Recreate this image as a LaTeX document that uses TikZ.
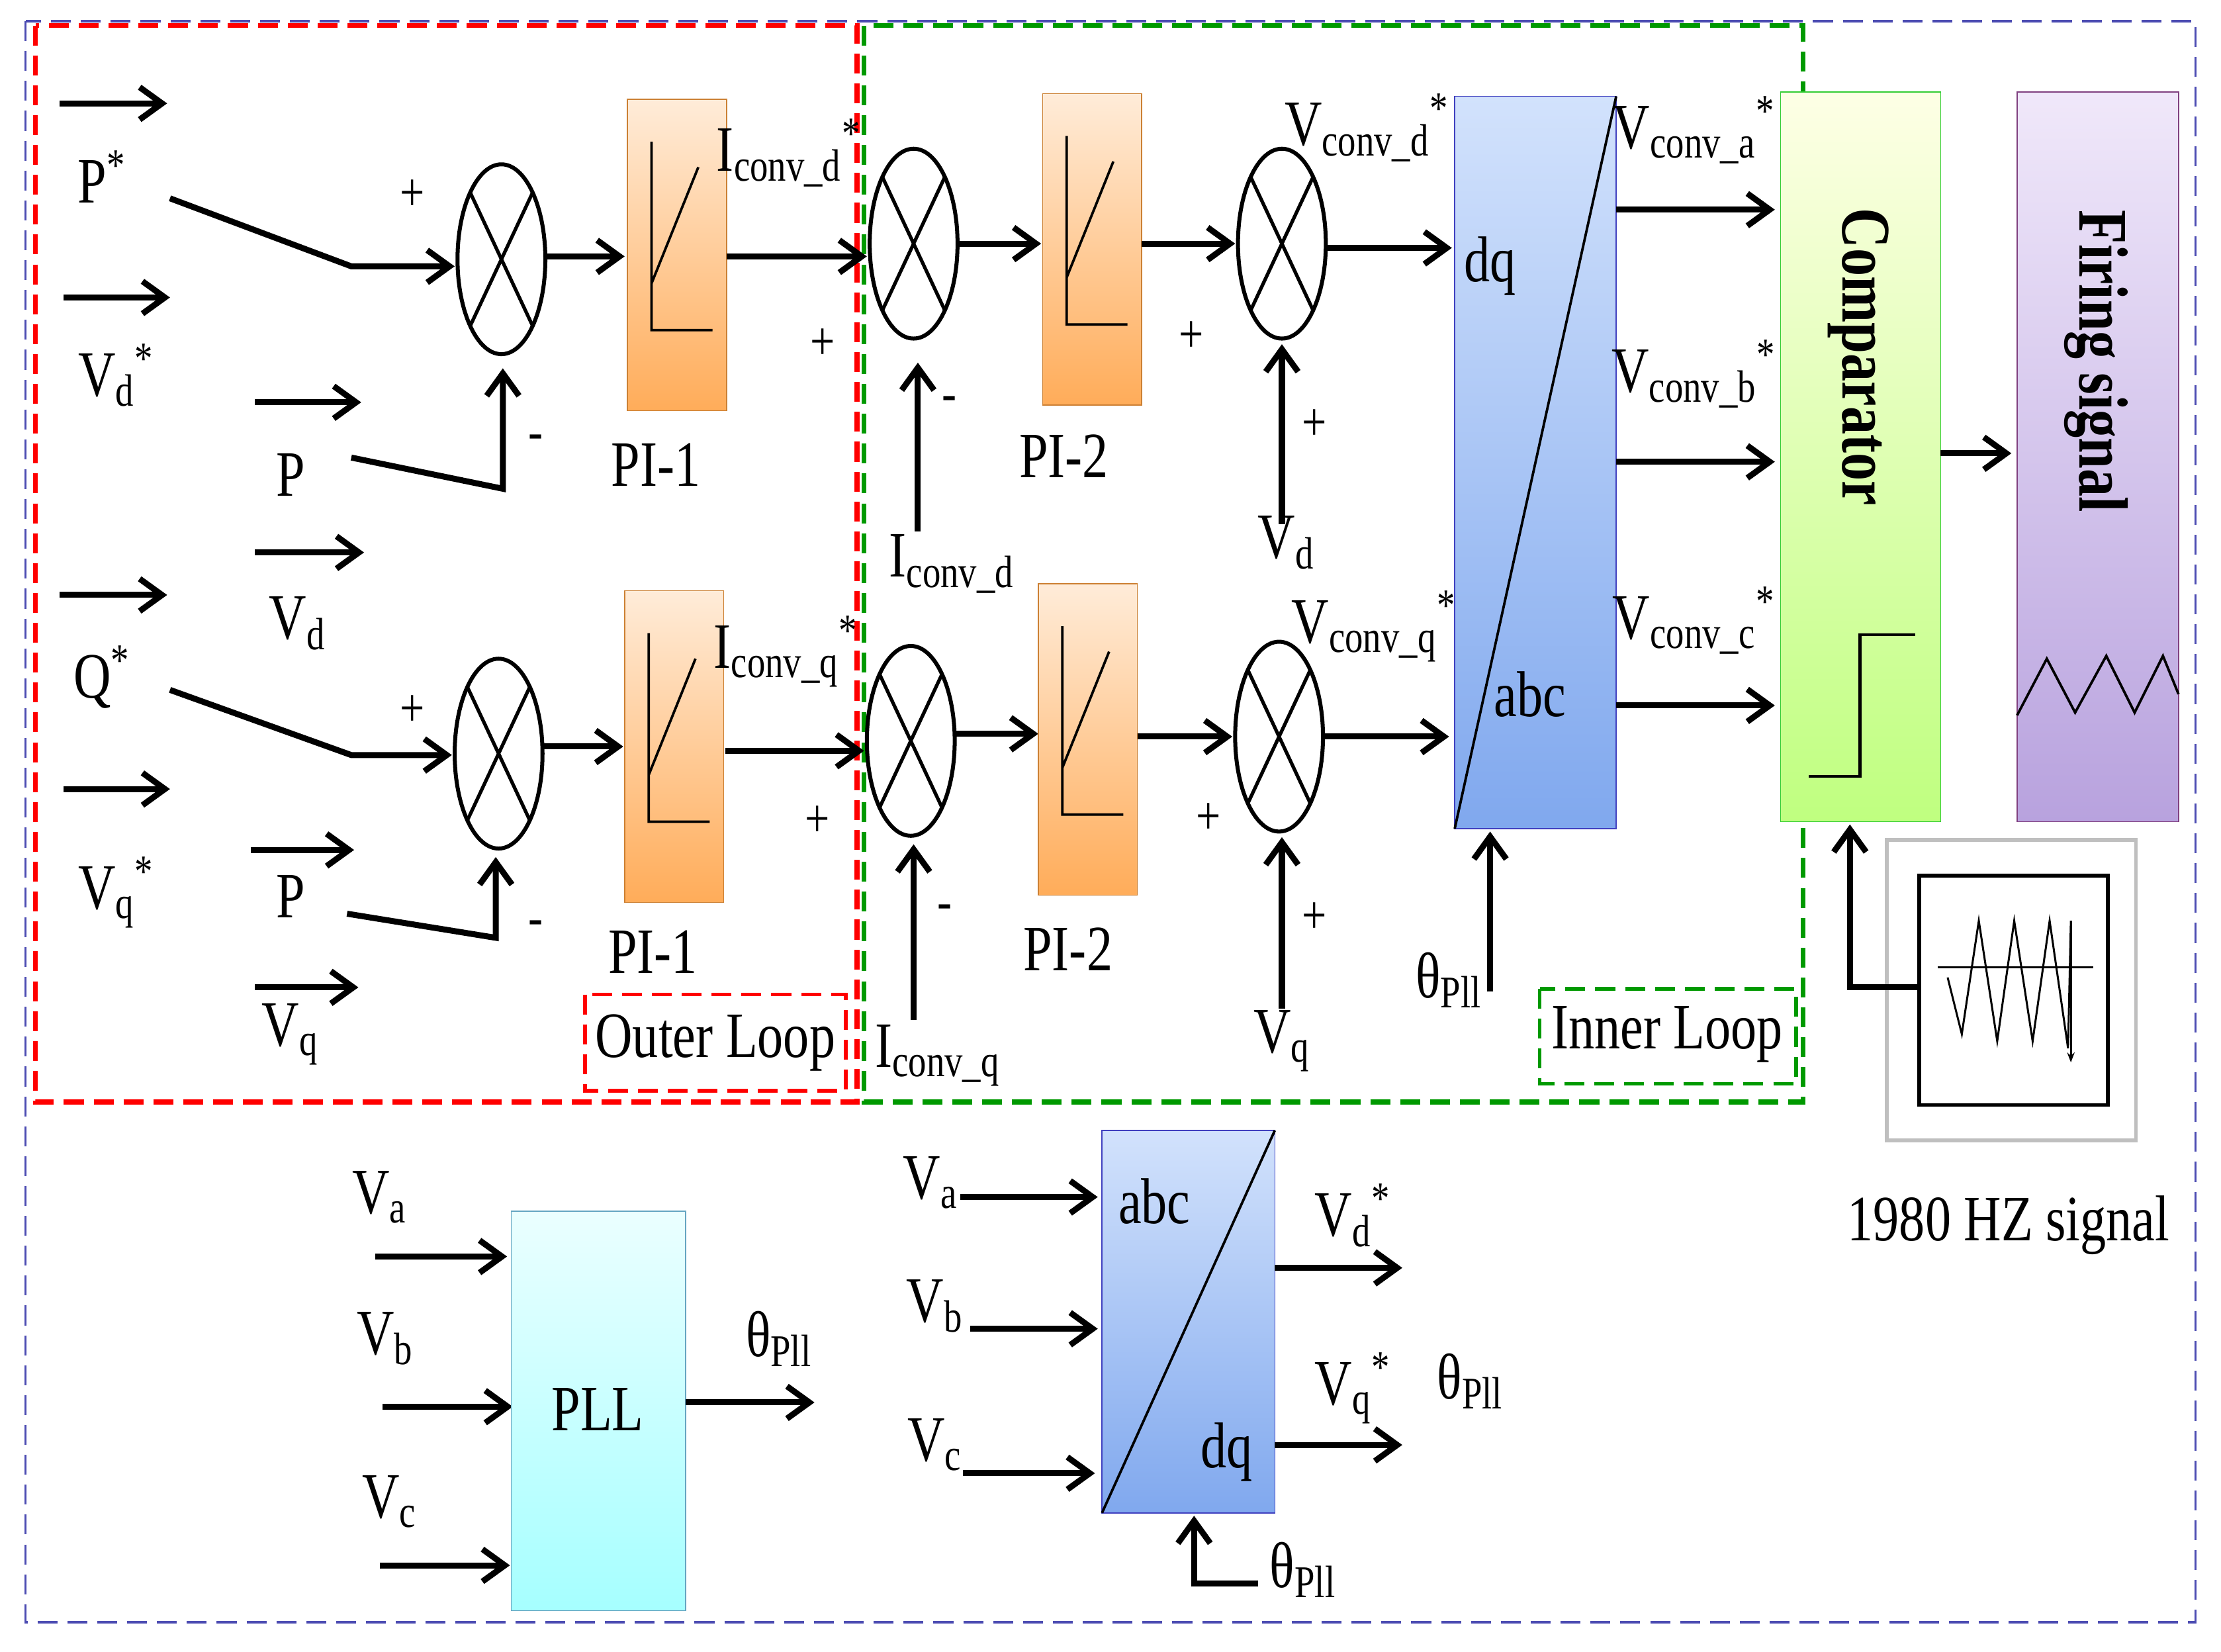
\documentclass[tikz,border=0pt]{standalone}
\usepackage{fontspec}
\setmainfont{Liberation Serif}[FakeStretch=0.8]
\usetikzlibrary{arrows.meta}
\definecolor{blt}{HTML}{D2E2FC}\definecolor{blb}{HTML}{80A8EE}
\definecolor{prt}{HTML}{F0E8FA}\definecolor{prb}{HTML}{B8A2DE}
\begin{document}
\begin{tikzpicture}[x=0.02cm,y=-0.02cm,
 ar/.style={line width=2.4pt,-{Straight Barb[length=9pt,width=13pt,line width=2.4pt]}},
 t/.style={font=\fontsize{26}{28}\selectfont,inner sep=0pt},
 sm/.style={font=\fontsize{22}{24}\selectfont,inner sep=0pt},
 pi/.style={draw=orange!60!gray,top color=orange!15,bottom color=orange!65},
 bl/.style={draw=blue!50!gray,top color=blt,bottom color=blb},
 dsh/.style={dash pattern=on 8pt off 4pt},
]
\useasboundingbox (0,0) rectangle (1568,1166);
\draw[blue!40!gray,dsh,line width=1pt] (18,15) rectangle (1550,1145);
\draw[red,dsh,line width=2pt] (25,18) rectangle (605,778);
\draw[green!60!black,dsh,line width=2pt] (610,18) rectangle (1273,778);
\draw[red,dsh,line width=1.5pt] (413,702) rectangle (597,770);
\node[t] (ol) at (505,736) {Outer Loop};
\draw[green!60!black,dsh,line width=1.5pt] (1087,698) rectangle (1268,765);
\node[t] (il) at (1177,730) {Inner Loop};

\tikzset{pics/summ/.style={code={
 \draw[line width=1.6pt,fill=white] (0,0) ellipse [x radius=31,y radius=67];
 \draw[line width=1.4pt] (-22,-47)--(22,47) (-22,47)--(22,-47);}}}
\tikzset{pics/pib/.style={code={
 \draw[pi] (-35,-110) rectangle (35,110);
 \draw[line width=1pt] (-18,-80)--(-18,53)--(25,53) (-18,20)--(15,-62);}}}

% ---------- upper row
\draw[ar] (42,73)--(118,73); \node[t] (ps) at (72,125) {P\textsuperscript{*}};
\draw[ar] (45,210)--(120,210); \node[t] (vds) at (82,265) {V\textsubscript{d}\textsuperscript{*}};
\pic at (354,183) {summ};
\draw[ar] (120,140)--(248,188)--(321,188);
\draw[ar] (180,284)--(255,284); \node[t] (p1) at (205,335) {P};
\draw[ar] (248,323)--(355,345)--(355,260);
\draw[ar] (180,390)--(257,390); \node[t] (vd1) at (210,440) {V\textsubscript{d}};
\node[sm] at (291,138) {+}; \node[sm] at (378,312) {-};
\draw[ar] (386,181)--(441,181);
\pic at (478,180) {pib};
\node[t] (pi1a) at (463,328) {PI-1};
\node[t] (icd) at (557,108) {I\textsubscript{conv\_d}\textsuperscript{*}};
\draw[ar] (513,181)--(612,181); \node[sm] at (581,243) {+};
\pic at (645,172) {summ};
\node[sm] at (670,285) {-};
\draw[ar] (648,375)--(648,256); \node[t] (icd2) at (672,398) {I\textsubscript{conv\_d}};
\draw[ar] (677,172)--(735,172);
\pic at (771,176) {pib};
\node[t] (pi2a) at (751,322) {PI-2};
\draw[ar] (806,172)--(872,172); \node[sm] at (841,238) {+};
\pic at (905,172) {summ};
\node[sm] at (928,300) {+};
\draw[ar] (905,370)--(905,243); \node[t] (vd2) at (908,383) {V\textsubscript{d}};
\node[t] (vcd) at (965,90) {V\textsubscript{conv\_d}\textsuperscript{*}};
\draw[ar] (937,175)--(1025,175);

% ---------- lower row
\draw[ar] (42,420)--(118,420); \node[t] (qs) at (72,478) {Q\textsuperscript{*}};
\draw[ar] (45,557)--(120,557); \node[t] (vqs) at (82,630) {V\textsubscript{q}\textsuperscript{*}};
\pic at (352,532) {summ};
\draw[ar] (120,487)--(248,533)--(319,533);
\draw[ar] (177,600)--(250,600); \node[t] (p2) at (205,633) {P};
\draw[ar] (245,645)--(350,662)--(350,605);
\draw[ar] (180,697)--(253,697); \node[t] (vq1) at (205,730) {V\textsubscript{q}};
\node[sm] at (291,502) {+}; \node[sm] at (378,655) {-};
\draw[ar] (384,527)--(440,527);
\pic at (476,527) {pib};
\node[t] (pi1b) at (461,672) {PI-1};
\node[t] (icq) at (555,460) {I\textsubscript{conv\_q}\textsuperscript{*}};
\draw[ar] (512,530)--(610,530); \node[sm] at (577,580) {+};
\pic at (643,523) {summ};
\node[sm] at (667,644) {-};
\draw[ar] (645,720)--(645,596); \node[t] (icq2) at (662,745) {I\textsubscript{conv\_q}};
\draw[ar] (675,518)--(733,518);
\pic at (768,522) {pib};
\node[t] (pi2b) at (754,670) {PI-2};
\draw[ar] (803,520)--(870,520); \node[sm] at (853,578) {+};
\pic at (903,520) {summ};
\node[sm] at (928,648) {+};
\draw[ar] (905,712)--(905,591); \node[t] (vq2) at (905,735) {V\textsubscript{q}};
\node[t] (vcq) at (970,442) {V\textsubscript{conv\_q}\textsuperscript{*}};
\draw[ar] (935,520)--(1023,520);

% ---------- dq/abc
\draw[bl] (1027,68) rectangle (1141,585);
\draw[line width=1pt] (1027,585)--(1141,68);
\node[t] (dq1) at (1052,188) {dq}; \node[t] (abc1) at (1080,490) {abc};
\draw[ar] (1052,700)--(1052,587); \node[t] (th1) at (1023,692) {θ\textsubscript{Pll}};
\draw[ar] (1141,148)--(1253,148); \node[t] (va) at (1196,92) {V\textsubscript{conv\_a}\textsuperscript{*}};
\draw[ar] (1141,326)--(1253,326); \node[t] (vb) at (1196,264) {V\textsubscript{conv\_b}\textsuperscript{*}};
\draw[ar] (1141,498)--(1253,498); \node[t] (vc) at (1196,438) {V\textsubscript{conv\_c}\textsuperscript{*}};

\draw[draw=green!60!gray,top color=green!5!yellow!10,bottom color=green!50!yellow!50] (1257,65) rectangle (1370,580);
\node[t,rotate=-90,font=\fontsize{28}{30}\selectfont\bfseries] (cmp) at (1312,252) {Comparator};
\draw[line width=1.2pt] (1277,548)--(1313,548)--(1313,448)--(1352,448);
\draw[ar] (1370,320)--(1420,320);
\draw[draw=violet!50!gray,top color=prt,bottom color=prb] (1424,65) rectangle (1538,580);
\node[t,rotate=-90,font=\fontsize{28}{30}\selectfont\bfseries] (fs) at (1480,255) {Firing signal};
\draw[line width=1pt] (1424,505)--(1445,465)--(1465,503)--(1487,463)--(1507,503)--(1527,463)--(1538,490);
\draw[gray!50,line width=1.5pt] (1332,593) rectangle (1508,805);
\draw[line width=1.5pt] (1355,618) rectangle (1488,780);
\draw[line width=0.8pt] (1368,683)--(1478,683);
\draw[line width=0.8pt] (1375,690)--(1385,730)--(1397,650)--(1410,735)--(1422,650)--(1435,735)--(1447,650)--(1460,740)--(1462,650);
\draw[line width=0.8pt,-{Stealth[length=4pt]}] (1462,650)--(1462,750);
\draw[ar] (1355,697)--(1306,697)--(1306,582);
\node[t] (hz) at (1418,865) {1980 HZ signal};

% ---------- PLL
\node[t] (a1) at (268,845) {V\textsubscript{a}}; \draw[ar] (265,887)--(358,887);
\node[t] (b1) at (272,945) {V\textsubscript{b}}; \draw[ar] (270,993)--(362,993);
\node[t] (c1) at (275,1060) {V\textsubscript{c}}; \draw[ar] (268,1105)--(360,1105);
\draw[draw=cyan!50!gray,top color=cyan!8,bottom color=cyan!35] (361,855) rectangle (484,1137);
\node[t] (pll) at (422,995) {PLL};
\draw[ar] (484,990)--(575,990); \node[t] (th2) at (550,945) {θ\textsubscript{Pll}};

% ---------- abc/dq
\node[t] (a2) at (657,835) {V\textsubscript{a}}; \draw[ar] (678,845)--(775,845);
\node[t] (b2) at (660,922) {V\textsubscript{b}}; \draw[ar] (685,938)--(775,938);
\node[t] (c2) at (660,1020) {V\textsubscript{c}}; \draw[ar] (680,1040)--(773,1040);
\draw[bl] (778,798) rectangle (900,1068);
\draw[line width=1pt] (778,1068)--(900,798);
\node[t] (abc2) at (815,848) {abc}; \node[t] (dq2) at (866,1025) {dq};
\draw[ar] (900,895)--(990,895); \node[t] (vds2) at (955,858) {V\textsubscript{d}\textsuperscript{*}};
\draw[ar] (900,1020)--(990,1020); \node[t] (vqs2) at (955,980) {V\textsubscript{q}\textsuperscript{*}};
\node[t] (th3) at (1038,975) {θ\textsubscript{Pll}};
\draw[ar] (888,1118)--(843,1118)--(843,1070);
\node[t] (th4) at (920,1108) {θ\textsubscript{Pll}};
\end{tikzpicture}
\end{document}
